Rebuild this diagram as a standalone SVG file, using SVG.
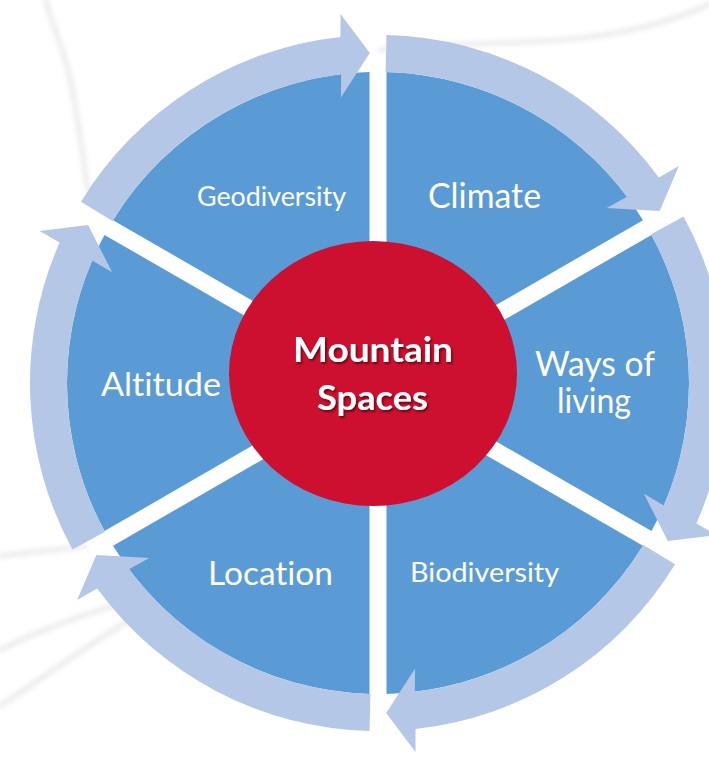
<svg xmlns="http://www.w3.org/2000/svg" width="709" height="758" viewBox="0 0 709 758">
<style>
.wedge{fill:#5B9BD5}
.arrow{fill:#B4C7E7}
.lbl{font-family:Lato,"Open Sans","Liberation Sans",sans-serif;fill:#FFFFFF;text-anchor:middle;font-variant-ligatures:none;font-feature-settings:"liga" 0,"clig" 0}
.ctr{font-family:Lato,"Open Sans","Liberation Sans",sans-serif;font-weight:bold;fill:#FFFFFF;text-anchor:middle;font-size:34px;font-variant-ligatures:none;font-feature-settings:"liga" 0,"clig" 0}
.bg{fill:none;stroke:#EBEBEB;stroke-width:5;stroke-linecap:round}
</style>
<defs>
<path id="wedge" d="M 386.5 368.28 L 386.5 72.12 A 311 311 0 0 1 642.99 220.20 Z"/>
<path id="arrow" d="M 386.50 35.10 A 348 348 0 0 1 658.82 177.47 L 678.90 165.98 L 659.62 210.97 L 606.79 208.07 L 627.03 196.70 A 311 311 0 0 0 385.60 72.09 Z"/>
<filter id="blur" x="-10%" y="-10%" width="120%" height="120%"><feGaussianBlur stdDeviation="2.5"/></filter>
<filter id="shadow" x="-10%" y="-20%" width="120%" height="150%"><feDropShadow dx="1.5" dy="2" stdDeviation="1.2" flood-color="#400000" flood-opacity="0.7"/></filter>
</defs>
<rect width="709" height="758" fill="#FFFFFF"/>
<g id="background" filter="url(#blur)">
<path class="bg" d="M 46 0 C 50 20 62 45 68 70 C 76 100 80 140 88 190"/>
<path class="bg" d="M 380 50 C 460 40 560 48 640 28 C 670 20 695 12 709 4"/>
<path class="bg" d="M 0 556 C 30 552 60 550 85 546"/>
<path class="bg" d="M 0 706 C 40 680 80 650 130 620"/>
<path class="bg" d="M 0 650 C 40 630 90 612 140 598"/>
</g>
<g id="node-climate"><use href="#wedge" class="wedge"/><text class="lbl" x="484.5" y="208" font-size="34" textLength="113" lengthAdjust="spacingAndGlyphs">Climate</text></g>
<g id="node-ways-of-living"><use href="#wedge" class="wedge" transform="rotate(60 378 383)"/><text class="lbl" font-size="34"><tspan x="595" y="376" textLength="120" lengthAdjust="spacingAndGlyphs">Ways of</tspan><tspan x="594" y="413" textLength="74" lengthAdjust="spacingAndGlyphs">living</tspan></text></g>
<g id="node-biodiversity"><use href="#wedge" class="wedge" transform="rotate(120 378 383)"/><text class="lbl" x="484.5" y="582" font-size="27" textLength="149" lengthAdjust="spacingAndGlyphs">Biodiversity</text></g>
<g id="node-location"><use href="#wedge" class="wedge" transform="rotate(180 378 383)"/><text class="lbl" x="270.5" y="585" font-size="33.5" textLength="125" lengthAdjust="spacingAndGlyphs">Location</text></g>
<g id="node-altitude"><use href="#wedge" class="wedge" transform="rotate(240 378 383)"/><text class="lbl" x="161" y="396" font-size="33.5" textLength="120" lengthAdjust="spacingAndGlyphs">Altitude</text></g>
<g id="node-geodiversity"><use href="#wedge" class="wedge" transform="rotate(300 378 383)"/><text class="lbl" x="271.5" y="206" font-size="27" textLength="149" lengthAdjust="spacingAndGlyphs">Geodiversity</text></g>
<g id="connectors">
<use href="#arrow" class="arrow"/>
<use href="#arrow" class="arrow" transform="rotate(60 378 383)"/>
<use href="#arrow" class="arrow" transform="rotate(120 378 383)"/>
<use href="#arrow" class="arrow" transform="rotate(180 378 383)"/>
<use href="#arrow" class="arrow" transform="rotate(240 378 383)"/>
<use href="#arrow" class="arrow" transform="rotate(300 378 383)"/>
</g>
<g id="node-mountain-spaces">
<ellipse cx="373" cy="373.5" rx="144" ry="132.5" fill="#CD1030"/>
<text class="ctr" filter="url(#shadow)"><tspan x="373" y="362" textLength="160" lengthAdjust="spacingAndGlyphs">Mountain</tspan><tspan x="372.5" y="410" textLength="111" lengthAdjust="spacingAndGlyphs">Spaces</tspan></text>
</g>
</svg>
